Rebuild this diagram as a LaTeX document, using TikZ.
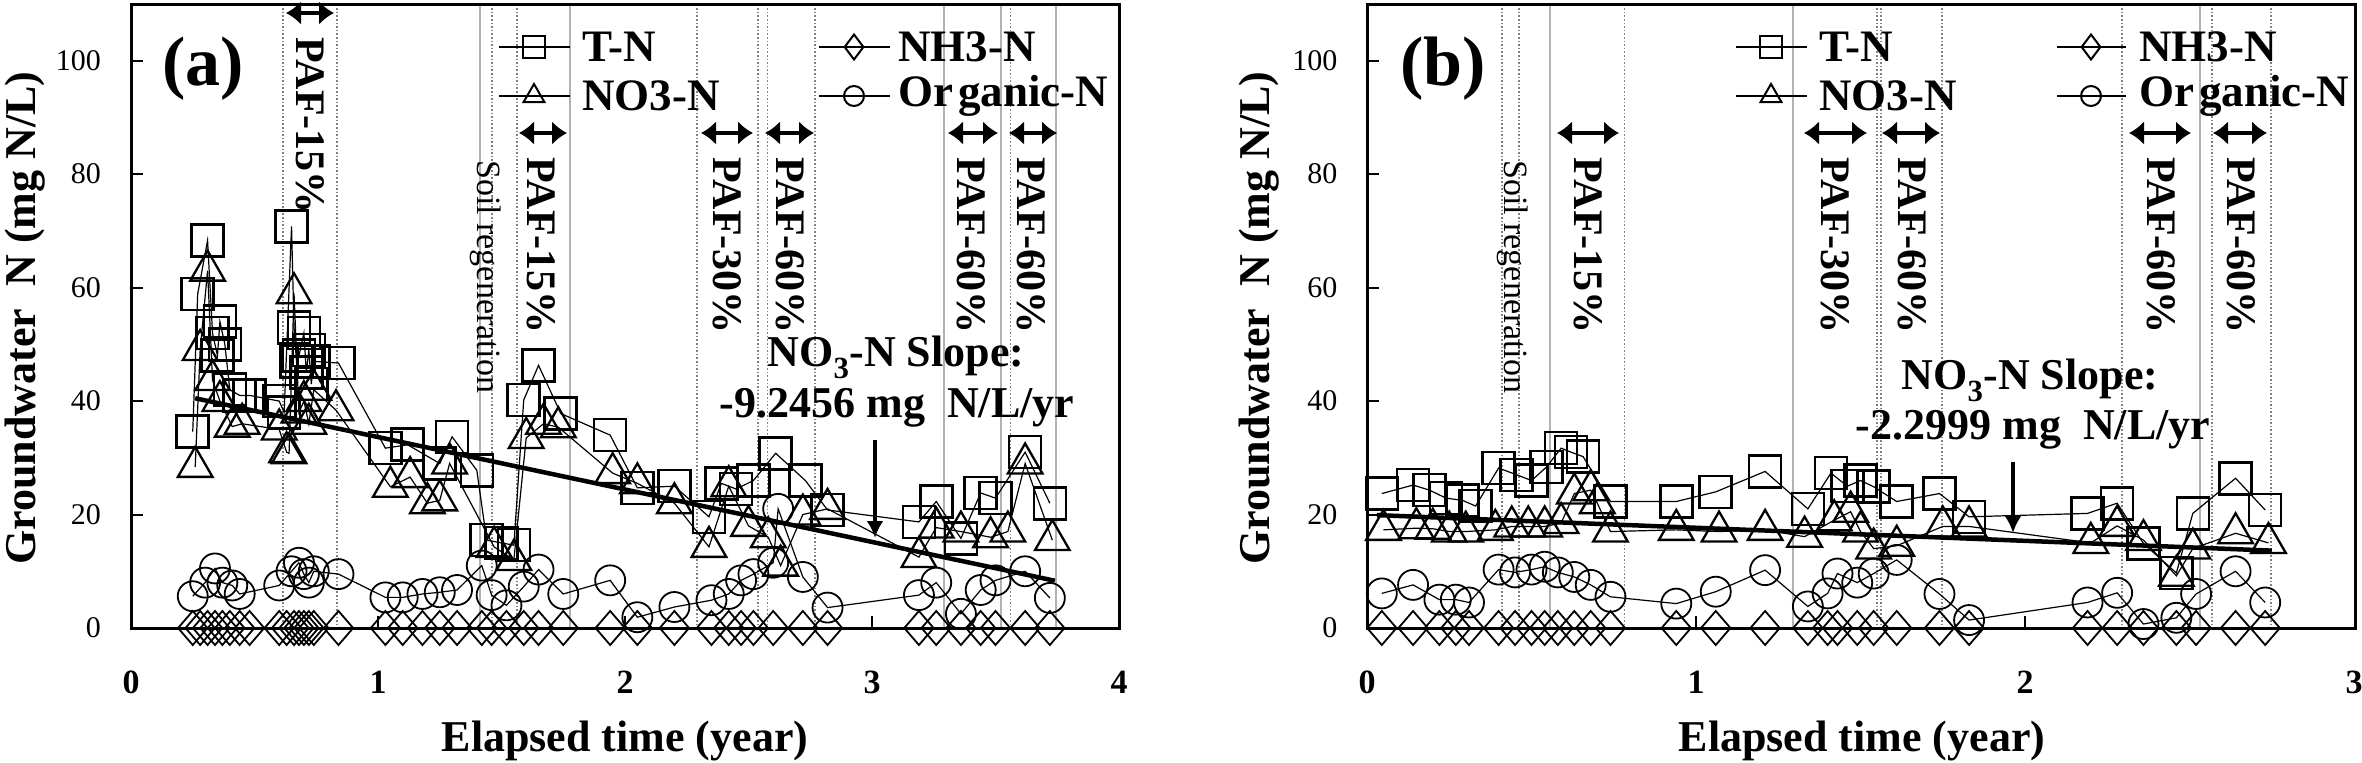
\documentclass[tikz,border=0pt]{standalone}
\usepackage{fontspec}
\setmainfont{Liberation Serif}
\usetikzlibrary{arrows.meta,plotmarks}
\begin{document}
\begin{tikzpicture}[x=1pt,y=-1pt,
  frame/.style={line width=3pt},
  tickline/.style={line width=2pt},
  vdot/.style={gray, dotted, line width=1.6pt},
  vsol/.style={gray!60, line width=1.3pt},
  darr/.style={line width=4.5pt, {Latex[length=15pt,width=24pt]}-{Latex[length=15pt,width=24pt]}},
  sarr/.style={line width=4.5pt, -{Latex[length=17pt,width=17pt]}},
  reg/.style={line width=4.5pt, black},
  pafl/.style={rotate=-90, anchor=west, inner sep=0pt, font=\bfseries\fontsize{42}{42}\selectfont},
  soill/.style={rotate=-90, anchor=west, inner sep=0pt, font=\fontsize{34}{34}\selectfont},
  ylab/.style={anchor=east, inner sep=0pt, font=\fontsize{30}{30}\selectfont},
  xlab/.style={anchor=base, inner sep=0pt, font=\bfseries\fontsize{34}{34}\selectfont},
  axlab/.style={inner sep=0pt, font=\bfseries\fontsize{44}{44}\selectfont},
  leglab/.style={anchor=west, inner sep=0pt, font=\bfseries\fontsize{45}{45}\selectfont},
  panlab/.style={inner sep=0pt, font=\bfseries\fontsize{70}{70}\selectfont},
  slopel/.style={inner sep=0pt, font=\bfseries\fontsize{44}{44}\selectfont},
  sqm/.style={line width=1.2pt, mark=square, mark size=16pt, mark options={line width=2.6pt}},
  trm/.style={line width=1.2pt, mark=triangle, mark size=20pt, mark options={line width=2.3pt}},
  cim/.style={line width=1.2pt, mark=o, mark size=15pt, mark options={line width=1.8pt}},
  dim/.style={line width=1.2pt, mark=diamond, mark size=17pt, mark options={line width=1.8pt, xscale=1.15}},
  lsq/.style={mark=square, mark size=11pt, mark options={line width=2pt}},
  ltr/.style={mark=triangle, mark size=12pt, mark options={line width=2pt}},
  lci/.style={mark=o, mark size=10pt, mark options={line width=2pt}},
  ldi/.style={mark=diamond, mark size=12.5pt, mark options={line width=2pt}},
  legline/.style={line width=2pt}
]
\useasboundingbox (0,0) rectangle (2362,763);
\fill[white] (0,0) rectangle (2362,763);

% ================= PANEL (a) =================
\foreach \x in {283,337,492,517,697,758,767.5,815,1010.5} \draw[vdot] (\x,4.5) -- (\x,628);
\foreach \x in {480,570,944,1001,1056} \draw[vsol] (\x,4.5) -- (\x,628);

\begin{scope}[shift={(131,628)}, x=247pt, y=5.673pt]
\draw[cim] plot coordinates {(0.25,5.6) (0.30,8) (0.34,10.5) (0.37,8) (0.41,7.5) (0.44,6) (0.60,7.5) (0.65,10) (0.68,11.5) (0.70,9.5) (0.72,8) (0.74,10) (0.84,9.5) (1.03,5.4) (1.10,5.4) (1.18,6) (1.25,6.3) (1.32,6.7) (1.42,11) (1.46,5.8) (1.52,4) (1.59,7.3) (1.65,10.3) (1.75,6) (1.94,8.4) (2.05,1.9) (2.20,3.7) (2.35,4.9) (2.42,6) (2.47,8.4) (2.52,9.5) (2.60,11.5) (2.62,21) (2.72,9) (2.82,3.6) (3.19,5.8) (3.26,8) (3.36,2.5) (3.44,6.7) (3.50,8.4) (3.62,10) (3.72,5.3)};
\draw[dim] plot coordinates {(0.25,0) (0.28,0) (0.31,0) (0.34,0) (0.37,0) (0.40,0) (0.44,0) (0.48,0) (0.60,0) (0.63,0) (0.66,0) (0.68,0) (0.70,0) (0.72,0) (0.74,0) (0.84,0) (1.03,0) (1.10,0) (1.18,0) (1.25,0) (1.32,0) (1.42,0) (1.46,0) (1.52,0) (1.59,0) (1.65,0) (1.75,0) (1.94,0) (2.05,0) (2.20,0) (2.35,0) (2.42,0) (2.47,0) (2.52,0) (2.60,0) (2.72,0) (2.82,0) (3.19,0) (3.26,0) (3.36,0) (3.44,0) (3.50,0) (3.62,0) (3.72,0)};
\draw[trm] plot coordinates {(0.26,28.4) (0.28,49) (0.31,63) (0.33,43.7) (0.36,40) (0.41,35.5) (0.45,36) (0.60,35) (0.63,31) (0.64,30.8) (0.66,59) (0.68,38) (0.70,40) (0.72,36) (0.74,42) (0.83,38.4) (1.05,24.9) (1.13,26.6) (1.20,22) (1.25,22.5) (1.29,29) (1.47,14.3) (1.55,12) (1.60,33.5) (1.67,36) (1.73,35.4) (1.95,27.3) (2.05,25.5) (2.20,22) (2.34,14.3) (2.42,25) (2.50,18) (2.58,16) (2.63,11) (2.72,20) (2.82,21) (3.19,12.5) (3.26,17.7) (3.36,17) (3.48,16) (3.55,17) (3.62,29) (3.73,15.5)};
\draw[sqm] plot coordinates {(0.25,34.6) (0.27,58.9) (0.31,68.3) (0.33,52) (0.35,48) (0.36,54) (0.38,50) (0.40,42) (0.44,41) (0.48,41) (0.60,40) (0.62,38) (0.65,70.8) (0.66,53) (0.67,47) (0.68,48) (0.70,52) (0.71,45) (0.72,49) (0.73,43) (0.74,47) (0.84,46.7) (1.03,31.7) (1.12,32.3) (1.25,29) (1.30,33.7) (1.40,27.8) (1.44,15.5) (1.50,15) (1.55,14.6) (1.59,40.2) (1.65,46.3) (1.74,37.8) (1.94,34) (2.05,24.7) (2.20,25) (2.34,19.6) (2.39,25.5) (2.45,24.5) (2.52,26) (2.61,30.8) (2.73,26) (2.82,20.8) (3.19,18.7) (3.26,22.3) (3.36,15.8) (3.44,23.8) (3.50,22.9) (3.62,31) (3.72,22)};
\coordinate (ra1) at (0.26,40.5);
\coordinate (ra2) at (3.74,8.33);
\draw[reg] (ra1) -- (ra2);
\end{scope}

\draw[frame] (131,4.5) rectangle (1119,628);
\foreach \v in {20,40,60,80,100} \draw[tickline] (131,{628-5.673*\v}) -- ++(12,0);
\foreach \t in {1,2,3} \draw[tickline] ({131+247*\t},628) -- ++(0,-12);
\foreach \v in {0,20,40,60,80,100} \node[ylab] (ya\v) at (101,{628-5.673*\v}) {\v};
\foreach \t in {0,1,2,3,4} \node[xlab] (xa\t) at ({131+247*\t},693) {\t};
\node[axlab, rotate=90] (ylaba) at (25,318) {Groundwater~~N (mg N/L)};
\node[axlab, anchor=base] (xlaba) at (625,751) {Elapsed time (year)};
\node[panlab] (pa) at (203,69) {(a)};

\draw[legline] (499,47) -- (570,47);
\draw[lsq] plot coordinates {(534,47)};
\node[leglab] (lta) at (582,47) {T-N};
\draw[legline] (499,96) -- (570,96);
\draw[ltr] plot coordinates {(534,96)};
\node[leglab] (lna) at (582,96) {NO3-N};
\draw[legline] (819,47) -- (890,47);
\draw[ldi] plot coordinates {(854,47)};
\node[leglab] (lha) at (898,47) {NH3-N};
\draw[legline] (819,96) -- (890,96);
\draw[lci] plot coordinates {(854,96)};
\node[leglab] (loa) at (898,96) {Or\hspace{5pt}ganic-N};

\coordinate (a1l) at (286,13); \coordinate (a1r) at (334,13);
\draw[darr] (a1l) -- (a1r);
\node[pafl] (pa1) at (310,37) {PAF-15\%};
\coordinate (a2l) at (519,133); \coordinate (a2r) at (567,133);
\draw[darr] (a2l) -- (a2r);
\node[pafl] (pa2) at (541,157) {PAF-15\%};
\node[soill] (sa) at (486,160) {Soil regeneration};
\coordinate (a3l) at (701,133); \coordinate (a3r) at (753,133);
\draw[darr] (a3l) -- (a3r);
\node[pafl] (pa3) at (727,157) {PAF-30\%};
\coordinate (a4l) at (765,133); \coordinate (a4r) at (814,133);
\draw[darr] (a4l) -- (a4r);
\node[pafl] (pa4) at (790,157) {PAF-60\%};
\coordinate (a5l) at (948,133); \coordinate (a5r) at (998,133);
\draw[darr] (a5l) -- (a5r);
\node[pafl] (pa5) at (971,157) {PAF-60\%};
\coordinate (a6l) at (1009,133); \coordinate (a6r) at (1057,133);
\draw[darr] (a6l) -- (a6r);
\node[pafl] (pa6) at (1031,157) {PAF-60\%};

\node[slopel] (sla1) at (896,357) {NO\textsubscript{3}-N Slope:};
\node[slopel] (sla2) at (897,408) {-9.2456 mg~~N/L/yr};
\coordinate (sa1) at (875,440); \coordinate (sa2) at (875,538);
\draw[sarr] (sa1) -- (sa2);

% ================= PANEL (b) =================
\foreach \x in {1502,1519,1624.5,1877,1881,1942,2122,2212,2271} \draw[vdot] (\x,4.5) -- (\x,628);
\foreach \x in {1550,1793,2200} \draw[vsol] (\x,4.5) -- (\x,628);

\begin{scope}[shift={(1367,628)}, x=329pt, y=5.673pt]
\draw[cim] plot coordinates {(0.045,6.1) (0.14,7.6) (0.22,5) (0.27,5) (0.31,4.5) (0.40,10.3) (0.45,9.8) (0.50,10.3) (0.54,10.8) (0.58,9.8) (0.63,9) (0.68,7.6) (0.74,5.5) (0.94,4.3) (1.06,6.4) (1.21,10.2) (1.34,3.8) (1.40,6.1) (1.43,9.6) (1.49,8) (1.54,9.6) (1.61,12) (1.74,6) (1.83,1.4) (2.19,4.5) (2.28,6.2) (2.36,0.7) (2.46,1.8) (2.52,6) (2.64,10) (2.73,4.5)};
\draw[dim] plot coordinates {(0.045,0) (0.14,0) (0.22,0) (0.27,0) (0.31,0) (0.40,0) (0.45,0) (0.50,0) (0.54,0) (0.58,0) (0.63,0) (0.68,0) (0.74,0) (0.94,0) (1.06,0) (1.21,0) (1.34,0) (1.40,0) (1.43,0) (1.49,0) (1.54,0) (1.61,0) (1.74,0) (1.83,0) (2.19,0) (2.28,0) (2.36,0) (2.46,0) (2.52,0) (2.64,0) (2.73,0)};
\draw[trm] plot coordinates {(0.05,17.3) (0.15,17.6) (0.20,17.5) (0.25,17) (0.30,17) (0.39,17.3) (0.44,17.9) (0.49,17.9) (0.54,17.9) (0.59,18.5) (0.63,23.7) (0.68,24.3) (0.70,22) (0.74,17) (0.94,17.3) (1.07,17) (1.21,17.3) (1.33,16.1) (1.42,19) (1.47,20.5) (1.50,17) (1.54,14) (1.61,14.5) (1.75,17.9) (1.83,17.9) (2.20,15) (2.28,18) (2.36,15.5) (2.46,9.2) (2.51,14) (2.64,16.7) (2.74,15)};
\draw[sqm] plot coordinates {(0.045,23.7) (0.14,25.2) (0.19,24.3) (0.24,22.9) (0.29,22.5) (0.33,21.5) (0.40,28.2) (0.455,27) (0.50,26) (0.546,28.4) (0.59,31.7) (0.62,31) (0.657,30.2) (0.74,22.3) (0.94,22.3) (1.06,24) (1.21,27.6) (1.34,21) (1.41,27.3) (1.46,25) (1.50,26) (1.54,24.9) (1.61,22.3) (1.74,23.7) (1.83,19.6) (2.19,20.2) (2.28,22) (2.36,14.9) (2.46,9.7) (2.51,20.2) (2.64,26.4) (2.73,20.8)};
\coordinate (rb1) at (0.03,19.9);
\coordinate (rb2) at (2.75,13.64);
\draw[reg] (rb1) -- (rb2);
\end{scope}

\draw[frame] (1367,4.5) rectangle (2355,628);
\foreach \v in {20,40,60,80,100} \draw[tickline] (1367,{628-5.673*\v}) -- ++(12,0);
\foreach \t in {1,2} \draw[tickline] ({1367+329*\t},628) -- ++(0,-12);
\foreach \v in {0,20,40,60,80,100} \node[ylab] (yb\v) at (1337.5,{628-5.673*\v}) {\v};
\foreach \t in {0,1,2,3} \node[xlab] (xb\t) at ({1367+329*\t},693) {\t};
\node[axlab, rotate=90] (ylabb) at (1259,318) {Groundwater~~N (mg N/L)};
\node[axlab, anchor=base] (xlabb) at (1862,751) {Elapsed time (year)};
\node[panlab] (pb) at (1443,69) {(b)};

\draw[legline] (1736,47) -- (1807,47);
\draw[lsq] plot coordinates {(1771,47)};
\node[leglab] (ltb) at (1819,47) {T-N};
\draw[legline] (1736,96) -- (1807,96);
\draw[ltr] plot coordinates {(1771,96)};
\node[leglab] (lnb) at (1819,96) {NO3-N};
\draw[legline] (2057,47) -- (2126,47);
\draw[ldi] plot coordinates {(2091,47)};
\node[leglab] (lhb) at (2139,47) {NH3-N};
\draw[legline] (2057,96) -- (2126,96);
\draw[lci] plot coordinates {(2091,96)};
\node[leglab] (lob) at (2139,96) {Or\hspace{5pt}ganic-N};

\node[soill] (sb) at (1513,160) {Soil regeneration};
\coordinate (b1l) at (1557,133); \coordinate (b1r) at (1619,133);
\draw[darr] (b1l) -- (b1r);
\node[pafl] (pb1) at (1588,157) {PAF-15\%};
\coordinate (b2l) at (1804,133); \coordinate (b2r) at (1867,133);
\draw[darr] (b2l) -- (b2r);
\node[pafl] (pb2) at (1835,157) {PAF-30\%};
\coordinate (b3l) at (1882,133); \coordinate (b3r) at (1940,133);
\draw[darr] (b3l) -- (b3r);
\node[pafl] (pb3) at (1912,157) {PAF-60\%};
\coordinate (b4l) at (2129,133); \coordinate (b4r) at (2191,133);
\draw[darr] (b4l) -- (b4r);
\node[pafl] (pb4) at (2161,157) {PAF-60\%};
\coordinate (b5l) at (2213,133); \coordinate (b5r) at (2267,133);
\draw[darr] (b5l) -- (b5r);
\node[pafl] (pb5) at (2241,157) {PAF-60\%};

\node[slopel] (slb1) at (2030,380) {NO\textsubscript{3}-N Slope:};
\node[slopel] (slb2) at (2033,430) {-2.2999 mg~~N/L/yr};
\coordinate (sb1) at (2013,462); \coordinate (sb2) at (2013,533);
\draw[sarr] (sb1) -- (sb2);
\end{tikzpicture}
\end{document}
